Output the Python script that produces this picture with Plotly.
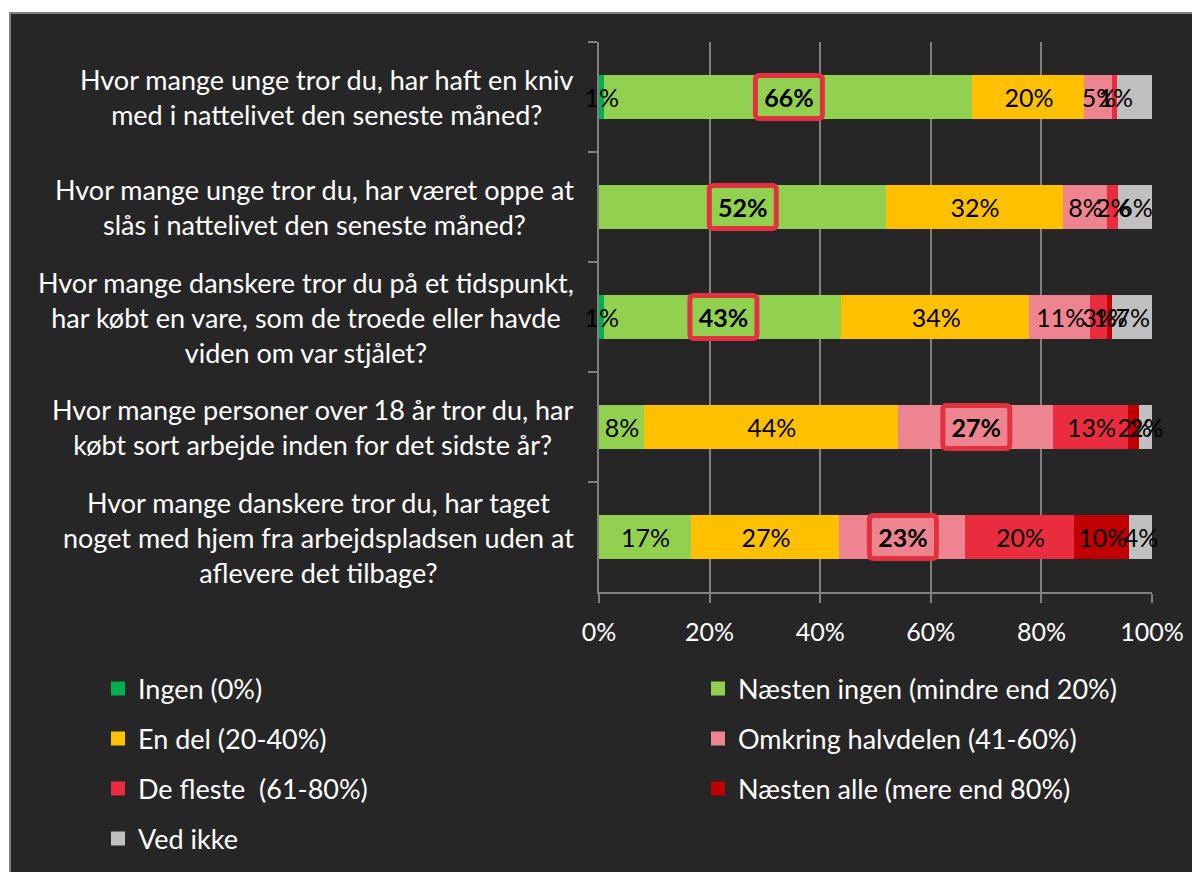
import plotly.graph_objects as go

# Questions (top to bottom)
questions = [
    "Hvor mange unge tror du, har haft en kniv<br>med i nattelivet den seneste måned?",
    "Hvor mange unge tror du, har været oppe at<br>slås i nattelivet den seneste måned?",
    "Hvor mange danskere tror du på et tidspunkt,<br>har købt en vare, som de troede eller havde<br>viden om var stjålet?",
    "Hvor mange personer over 18 år tror du, har<br>købt sort arbejde inden for det sidste år?",
    "Hvor mange danskere tror du, har taget<br>noget med hjem fra arbejdspladsen uden at<br>aflevere det tilbage?",
]

answers = [
    "Ingen (0%)",
    "Næsten ingen (mindre end 20%)",
    "En del (20-40%)",
    "Omkring halvdelen (41-60%)",
    "De fleste  (61-80%)",
    "Næsten alle (mere end 80%)",
    "Ved ikke",
]

# percent per answer, aligned with questions
ingen = [1, 0, 1, 0, 0]
naesten_ingen = [66, 52, 43, 8, 17]
en_del = [20, 32, 34, 44, 27]
halvdelen = [5, 8, 11, 27, 23]
de_fleste = [1, 2, 3, 13, 20]
naesten_alle = [0, 0, 1, 2, 10]
ved_ikke = [6, 6, 7, 2, 4]

series = [ingen, naesten_ingen, en_del, halvdelen, de_fleste, naesten_alle, ved_ikke]

colors = ["#00b050", "#92d050", "#ffc000", "#ee8490", "#ea2d3e", "#c00000", "#c0c0c0"]

# the answer that gets a red box, per question
highlight = [1, 1, 1, 3, 3]

tick_vals = [0, 20, 40, 60, 80, 100]
tick_text = ["0%", "20%", "40%", "60%", "80%", "100%"]

FONT = "Lato"
W, H = 1200, 872
OFF = 8  # page body margin in the screenshot
ML, MT, PW, PH = 591, 34, 553, 550
MR, MB = W - ML - PW, H - MT - PH


def px_x(p):
    return (p - OFF - ML) / PW


def px_y(p):
    return (H - MB - (p - OFF)) / PH


def rounded_box(w, h, r):
    # path in pixels around (0, 0)
    a, b = w / 2, h / 2
    return (
        f"M{-a + r},{-b} H{a - r} Q{a},{-b} {a},{-b + r} "
        f"V{b - r} Q{a},{b} {a - r},{b} H{-a + r} "
        f"Q{-a},{b} {-a},{b - r} V{-b + r} Q{-a},{-b} {-a + r},{-b} Z"
    )


fig = go.Figure()

# coloured bars (outline in the same colour makes the legend squares bigger)
for k, (name, vals, col) in enumerate(zip(answers, series, colors)):
    fig.add_trace(
        go.Bar(
            y=questions,
            x=vals,
            name=name,
            orientation="h",
            marker={"color": col, "line": {"width": 2, "color": col}},
            legend="legend" if k == 0 else f"legend{k + 1}",
            hoverinfo="skip",
        )
    )

# labels on an overlaid axis so they sit above every bar
for k, vals in enumerate(series):
    texts = []
    for i, v in enumerate(vals):
        if v == 0:
            texts.append("")
        elif highlight[i] == k:
            texts.append(f"<b>{v}%</b>")
        else:
            texts.append(f"{v}%")
    fig.add_trace(
        go.Bar(
            y=questions,
            x=vals,
            yaxis="y2",
            orientation="h",
            marker={"color": "rgba(0,0,0,0)", "line": {"width": 0}},
            text=texts,
            textposition="inside",
            insidetextanchor="middle",
            constraintext="none",
            textangle=0,
            cliponaxis=False,
            textfont={"family": FONT, "size": 25, "color": "black"},
            showlegend=False,
            hoverinfo="skip",
        )
    )

annotations = []

# question labels, lines centred
for q in questions:
    annotations.append(
        {
            "x": px_x(576),
            "xref": "paper",
            "y": q,
            "yref": "y",
            "xanchor": "right",
            "yanchor": "middle",
            "align": "center",
            "text": q,
            "showarrow": False,
            "font": {"family": FONT, "size": 27, "color": "white"},
        }
    )

# dark chart panel with grey frame, leaving a white strip left/top
shapes = [
    {
        "type": "rect",
        "xref": "paper",
        "yref": "paper",
        "x0": px_x(10),
        "x1": px_x(W + 20),
        "y0": px_y(H + 20),
        "y1": px_y(13),
        "fillcolor": "#262626",
        "line": {"color": "#7f7f7f", "width": 2},
        "layer": "below",
    }
]

# red rounded boxes round the highlighted labels
for i, q in enumerate(questions):
    k = highlight[i]
    total = sum(s[i] for s in series)
    before = sum(series[j][i] for j in range(k))
    shapes.append(
        {
            "type": "path",
            "xref": "x",
            "yref": "y",
            "xsizemode": "pixel",
            "ysizemode": "pixel",
            "xanchor": (before + series[k][i] / 2) / total * 100,
            "yanchor": i,
            "path": rounded_box(67, 43, 4),
            "line": {"color": "#e3323f", "width": 5},
            "fillcolor": "rgba(0,0,0,0)",
            "layer": "above",
        }
    )

# legend grid: two columns, four rows
legend_x = [98, 698]
legend_y = [689, 739, 789, 839]
legends = {}
for k in range(len(answers)):
    key = "legend" if k == 0 else f"legend{k + 1}"
    legends[key] = {
        "orientation": "v",
        "bgcolor": "rgba(0,0,0,0)",
        "font": {"family": FONT, "size": 27, "color": "white"},
        "xanchor": "left",
        "yanchor": "middle",
        "x": px_x(legend_x[k % 2]),
        "y": px_y(legend_y[k // 2]),
    }

axis_grey = "#808080"

fig.update_layout(
    width=W,
    height=H,
    paper_bgcolor="white",
    plot_bgcolor="rgba(0,0,0,0)",
    margin={"l": ML, "r": MR, "t": MT, "b": MB},
    barmode="stack",
    barnorm="percent",
    bargap=0.61,
    font={"family": FONT, "size": 25, "color": "white"},
    xaxis={
        "range": [0, 100],
        "tickmode": "array",
        "tickvals": tick_vals,
        "ticktext": tick_text,
        "showgrid": True,
        "gridcolor": axis_grey,
        "gridwidth": 1.5,
        "showline": True,
        "linecolor": axis_grey,
        "linewidth": 1.5,
        "ticks": "outside",
        "ticklen": 9,
        "tickcolor": axis_grey,
        "tickwidth": 1.5,
        "zeroline": False,
        "ticklabelstandoff": 8,
        "tickfont": {"family": FONT, "size": 25, "color": "white"},
        "fixedrange": True,
    },
    yaxis={
        "autorange": "reversed",
        "showticklabels": False,
        "showline": True,
        "linecolor": axis_grey,
        "linewidth": 1.5,
        "ticks": "outside",
        "tickson": "boundaries",
        "ticklen": 9,
        "tickcolor": axis_grey,
        "tickwidth": 1.5,
        "showgrid": False,
        "fixedrange": True,
    },
    yaxis2={
        "overlaying": "y",
        "matches": "y",
        "visible": False,
        "fixedrange": True,
    },
    annotations=annotations,
    shapes=shapes,
    **legends,
)

fig.write_html("out.html")
